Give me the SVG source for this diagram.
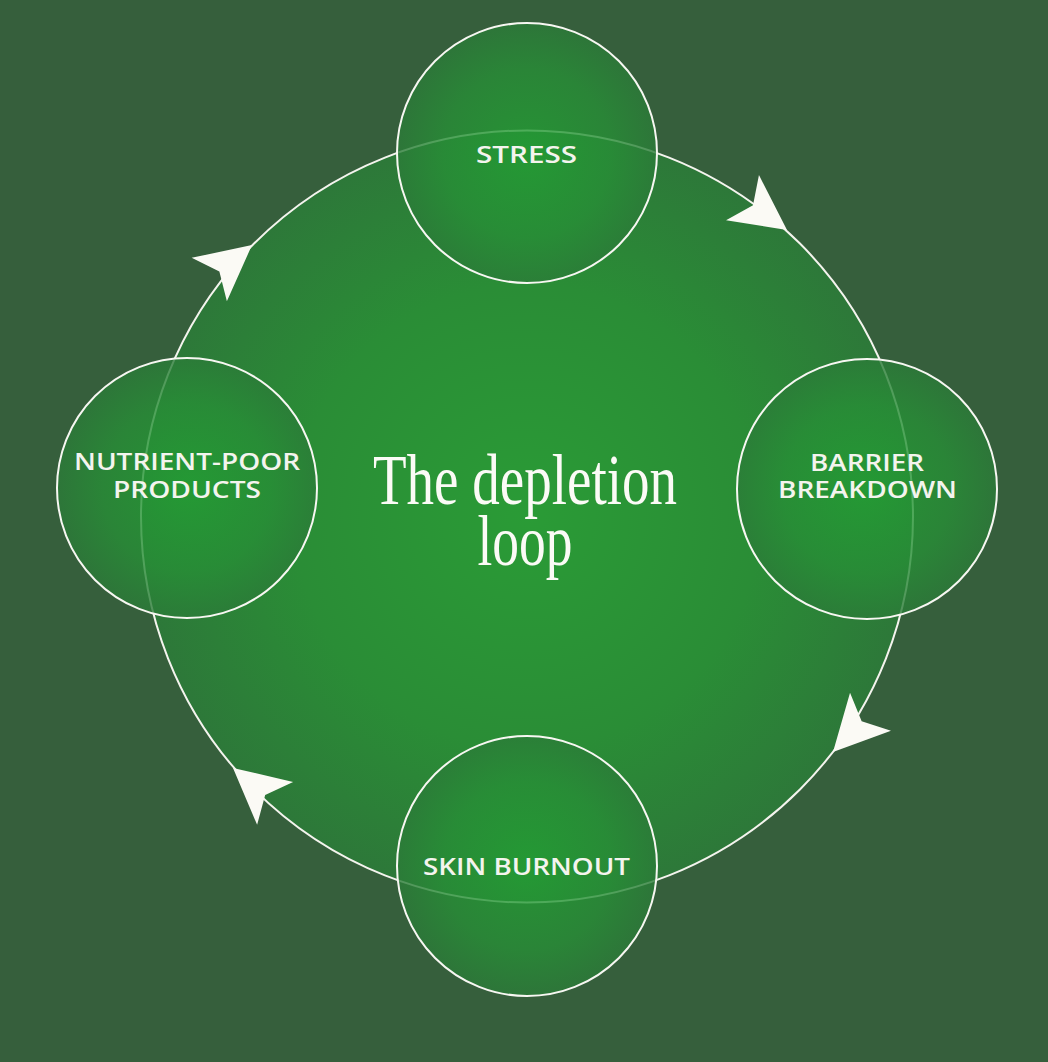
<svg xmlns="http://www.w3.org/2000/svg" xmlns:xlink="http://www.w3.org/1999/xlink" width="1048" height="1062" viewBox="0 0 1048 1062">
  <defs>
    <radialGradient id="bigGrad" cx="50%" cy="50%" r="50%">
      <stop offset="0" stop-color="#2a9b36"/>
      <stop offset="0.6" stop-color="#2a8d36"/>
      <stop offset="1" stop-color="#2d7839"/>
    </radialGradient>
    <radialGradient id="smallGrad" cx="50%" cy="50%" r="50%">
      <stop offset="0" stop-color="#22a033"/>
      <stop offset="0.65" stop-color="#278e36"/>
      <stop offset="1" stop-color="#2b7b38"/>
    </radialGradient>
    <path id="arrow" d="M0 0 L-55 -28 L-42 0 L-55 28 Z"/>
    <style>
      .loop { fill: url(#bigGrad); stroke: #f4f4ee; stroke-width: 2; }
      .node { fill: url(#smallGrad); fill-opacity: 0.8; stroke: #f7f7f2; stroke-width: 2; }
      .label { font-family: "Open Sans", "Liberation Sans", sans-serif; font-weight: 600; font-size: 24px; fill: #f4f4ee; text-anchor: middle; }
      .title { font-family: "Liberation Serif", "DejaVu Serif", serif; font-size: 72px; fill: #fbfbf6; text-anchor: middle; }
      .head { fill: #fbfaf5; }
    </style>
  </defs>

  <rect x="0" y="0" width="1048" height="1062" fill="#365f3c"/>

  <g id="connectors">
    <circle class="loop" cx="527" cy="516.5" r="386"/>
    <use xlink:href="#arrow" class="head" transform="translate(787,230) rotate(36)"/>
    <use xlink:href="#arrow" class="head" transform="translate(833,752) rotate(133)"/>
    <use xlink:href="#arrow" class="head" transform="translate(233,768) rotate(-140)"/>
    <use xlink:href="#arrow" class="head" transform="translate(252,245) rotate(-39)"/>
  </g>

  <g id="title">
    <text class="title" x="525" y="504" textLength="304" lengthAdjust="spacingAndGlyphs">The depletion</text>
    <text class="title" x="525" y="565" textLength="95" lengthAdjust="spacingAndGlyphs">loop</text>
  </g>

  <g id="node-stress">
    <circle class="node" cx="527" cy="153" r="130"/>
    <text class="label" x="526.5" y="163" textLength="101" lengthAdjust="spacingAndGlyphs">STRESS</text>
  </g>

  <g id="node-barrier">
    <circle class="node" cx="867" cy="489" r="130"/>
    <text class="label" x="867" y="471" textLength="114" lengthAdjust="spacingAndGlyphs">BARRIER</text>
    <text class="label" x="867.5" y="498" textLength="179" lengthAdjust="spacingAndGlyphs">BREAKDOWN</text>
  </g>

  <g id="node-burnout">
    <circle class="node" cx="527" cy="866" r="130"/>
    <text class="label" x="526.5" y="875" textLength="207" lengthAdjust="spacingAndGlyphs">SKIN BURNOUT</text>
  </g>

  <g id="node-nutrient">
    <circle class="node" cx="187" cy="488" r="130"/>
    <text class="label" x="187" y="470" textLength="226" lengthAdjust="spacingAndGlyphs">NUTRIENT-POOR</text>
    <text class="label" x="187" y="498" textLength="148" lengthAdjust="spacingAndGlyphs">PRODUCTS</text>
  </g>
</svg>
